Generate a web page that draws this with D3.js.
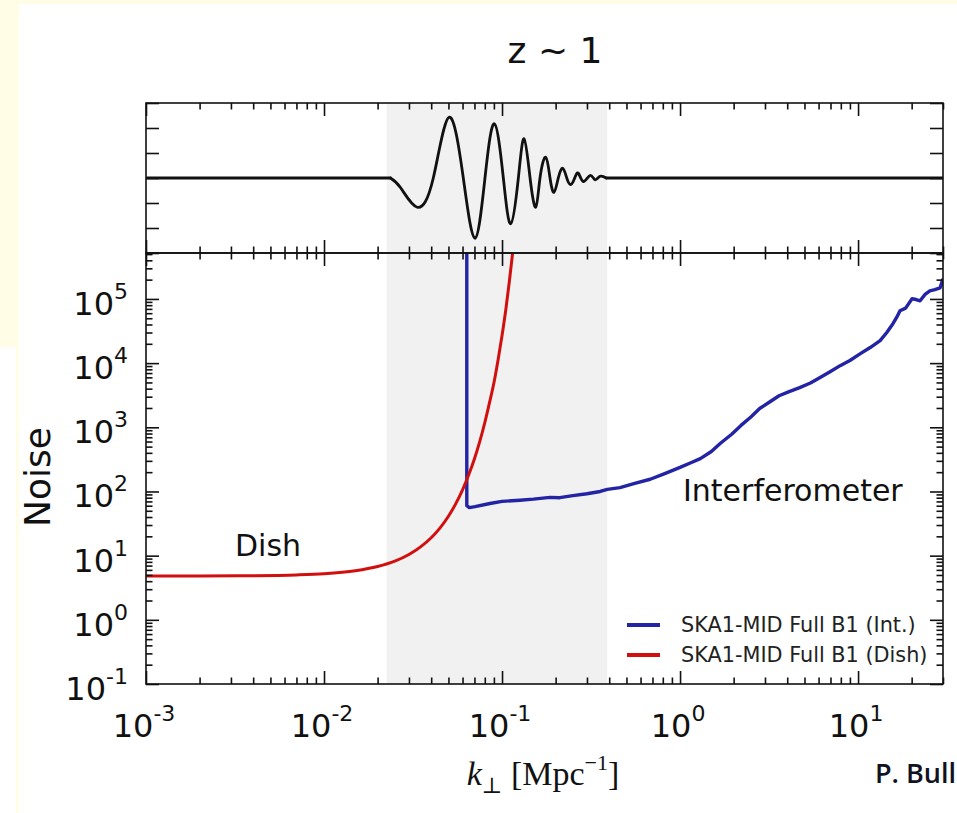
<!DOCTYPE html>
<html>
<head>
<meta charset="utf-8">
<script src="https://cdn.jsdelivr.net/npm/d3@7"></script>
<style>
  body { margin: 0; background: #fff; }
  svg { display: block; }
</style>
</head>
<body>
<svg id="chart"></svg>
<script>
// ---- data ----
const xDecades = [-3, -2, -1, 0, 1];
const yDecades = [-1, 0, 1, 2, 3, 4, 5];
const topTicks = [-3, -2, -1, 0, 1, 2, 3];
const shadeRange = [0.0225, 0.39];

// BAO wiggle (top panel), flat at zero outside the shaded band
const wiggleK = [0.001, 0.0236, 0.0270, 0.0334, 0.0411, 0.0504, 0.0606, 0.0705, 0.0802, 0.0905,
  0.1017, 0.1119, 0.1235, 0.1330, 0.1437, 0.1547, 0.1634, 0.1760, 0.1860, 0.1960, 0.2070, 0.2193, 0.2310, 0.2433,
  0.2560, 0.2685, 0.2863, 0.3122, 0.3329, 0.3553, 0.385, 30];
const wiggleV = [0, 0, -0.4, -1.17, 0, 2.43, 0, -2.41, 0, 2.17,
  0, -1.83, 0, 1.57, 0, -1.17, 0, 0.83, 0, -0.57, 0, 0.39, 0, -0.26,
  0, 0.19, -0.14, 0.10, -0.07, 0.07, 0, 0];

// SKA1-MID Full B1 (Int.)
const intK = [0.0634, 0.0634, 0.0655, 0.0705, 0.0855, 0.1, 0.126, 0.15, 0.186, 0.211, 0.25, 0.3, 0.356,
  0.39, 0.46, 0.55, 0.68, 0.82, 1.0, 1.15, 1.3, 1.5, 1.68, 1.95, 2.2, 2.5, 2.8, 3.2, 3.6, 4.1,
  4.7, 5.4, 6.12, 7.0, 7.93, 9.0, 10.3, 11.7, 13.3, 14.5, 15.7, 16.5, 17.2, 18.5, 20.1, 21.2,
  22.3, 23.8, 25.3, 27, 28.9, 30];
const intN = [6e5, 60, 56, 58, 65, 70, 73, 76, 81, 80, 86, 92, 100,
  108, 115, 132, 155, 190, 237, 280, 325, 420, 560, 780, 1070, 1450, 1960, 2500, 3100, 3600,
  4160, 4900, 5960, 7400, 9140, 11000, 14050, 17500, 22400, 30000, 41100, 52000, 65600, 72000, 100700, 98000,
  93700, 118000, 134000, 140000, 149000, 206000];

// SKA1-MID Full B1 (Dish)
const dishK = [0.001, 0.002, 0.004, 0.007, 0.01, 0.015, 0.02, 0.025, 0.03, 0.035, 0.04, 0.045, 0.05,
  0.055, 0.06, 0.065, 0.07, 0.075, 0.08, 0.085, 0.09, 0.095, 0.1, 0.105, 0.11, 0.115];
const dishN = [4.8, 4.82, 4.87, 5.01, 5.23, 5.82, 6.77, 8.2, 10.4, 13.8, 19.0, 27.4, 41.2,
  64.6, 106, 182, 324, 605, 1177, 2403, 4900, 11220, 27000, 68000, 190000, 560000];

const seriesNames = ["SKA1-MID Full B1 (Int.)", "SKA1-MID Full B1 (Dish)"];
const seriesColors = ["#2323a5", "#d20f0f"];

class NoiseChart {
  constructor(_config) {
    this.config = {
      parentElement: _config.parentElement,
      containerWidth: _config.containerWidth || 957,
      containerHeight: _config.containerHeight || 813,
      left: 146, right: 943,
      topY0: 103, topY1: 253, botY1: 684
    };
    this.initVis();
  }

  initVis() {
    let vis = this;
    const c = vis.config;

    vis.svg = d3.select(c.parentElement)
      .attr("width", c.containerWidth)
      .attr("height", c.containerHeight);

    // pale yellow slide edges
    const edge = "#fffde6";
    vis.svg.append("rect").attr("x", 0).attr("y", 0).attr("width", c.containerWidth).attr("height", 4).attr("fill", edge);
    vis.svg.append("rect").attr("x", 0).attr("y", 0).attr("width", 19).attr("height", 347).attr("fill", edge);
    vis.svg.append("rect").attr("x", 16).attr("y", 347).attr("width", 3).attr("height", 466).attr("fill", edge);

    vis.xScale = d3.scaleLog().domain([1e-3, 30]).range([c.left, c.right]);
    vis.yScale = d3.scaleLog().domain([0.1, 5.2e5]).range([c.botY1, c.topY1]);
    vis.yTopScale = d3.scaleLinear().domain([-3, 3]).range([c.topY1, c.topY0]);

    const defs = vis.svg.append("defs");
    defs.append("clipPath").attr("id", "clip-bot")
      .append("rect")
      .attr("x", c.left).attr("y", c.topY1)
      .attr("width", c.right - c.left).attr("height", c.botY1 - c.topY1);
    defs.append("clipPath").attr("id", "clip-top")
      .append("rect")
      .attr("x", c.left).attr("y", c.topY0)
      .attr("width", c.right - c.left).attr("height", c.topY1 - c.topY0);

    vis.renderVis();
  }

  renderVis() {
    let vis = this;
    const c = vis.config;
    const x = vis.xScale, y = vis.yScale, yt = vis.yTopScale;

    // shaded k-range over both panels
    vis.svg.append("rect")
      .attr("x", x(shadeRange[0]))
      .attr("y", c.topY0)
      .attr("width", x(shadeRange[1]) - x(shadeRange[0]))
      .attr("height", c.botY1 - c.topY0)
      .attr("fill", "#f1f1f1");

    // top panel wiggle: straight flat ends, smooth spline in between
    const pts = wiggleK.map((k, i) => [x(k), yt(wiggleV[i])]);
    const n = pts.length;
    const topG = vis.svg.append("g").attr("clip-path", "url(#clip-top)")
      .attr("fill", "none")
      .attr("stroke", "#111")
      .attr("stroke-width", 2.8)
      .attr("stroke-linecap", "round");
    topG.append("path").attr("d", d3.line()(pts.slice(0, 2)));
    topG.append("path").attr("d", d3.line()(pts.slice(n - 2)));
    topG.append("path").attr("d", d3.line().curve(d3.curveNatural)(pts.slice(1, n - 1)));

    // bottom panel curves
    const bot = vis.svg.append("g").attr("clip-path", "url(#clip-bot)");
    bot.append("path")
      .attr("d", d3.line()(intK.map((k, i) => [x(k), y(intN[i])])))
      .attr("fill", "none")
      .attr("stroke", seriesColors[0])
      .attr("stroke-width", 3.4)
      .attr("stroke-linejoin", "round");
    bot.append("path")
      .attr("d", d3.line().curve(d3.curveMonotoneX)(dishK.map((k, i) => [x(k), y(dishN[i])])))
      .attr("fill", "none")
      .attr("stroke", seriesColors[1])
      .attr("stroke-width", 3);

    // tick values
    const xMajor = xDecades.map(d => Math.pow(10, d));
    const xMinor = [];
    xDecades.forEach(d => {
      for (let m = 2; m <= 9; m++) {
        const v = m * Math.pow(10, d);
        if (v <= 30) xMinor.push(v);
      }
    });
    const yMajor = yDecades.map(d => Math.pow(10, d));
    const yMinor = [];
    yDecades.forEach(d => {
      for (let m = 2; m <= 9; m++) {
        const v = m * Math.pow(10, d);
        if (v <= 5.2e5) yMinor.push(v);
      }
    });

    const tickGroup = (axisFn, scale, values, size, tx, ty) => {
      vis.svg.append("g")
        .attr("transform", `translate(${tx},${ty})`)
        .call(axisFn(scale).tickValues(values).tickSize(size).tickSizeOuter(0).tickFormat(""))
        .call(g => g.select(".domain").remove())
        .call(g => g.selectAll("line").attr("stroke", "#111").attr("stroke-width", 1.6));
    };

    // x ticks: bottom of plot, shared border (both ways), top of top panel
    [[d3.axisBottom, c.botY1], [d3.axisTop, c.topY1], [d3.axisBottom, c.topY1], [d3.axisTop, c.topY0]].forEach(([fn, yy]) => {
      tickGroup(fn, x, xMajor, -13, 0, yy);
      tickGroup(fn, x, xMinor, -6.5, 0, yy);
    });
    // y ticks both panels
    [[d3.axisLeft, c.left], [d3.axisRight, c.right]].forEach(([fn, xx]) => {
      tickGroup(fn, y, yMajor, -13, xx, 0);
      tickGroup(fn, y, yMinor, -6.5, xx, 0);
      tickGroup(fn, yt, topTicks, -13, xx, 0);
    });

    // frames
    [[c.topY0, c.topY1], [c.topY1, c.botY1]].forEach(([a, b]) => {
      vis.svg.append("rect")
        .attr("x", c.left).attr("y", a)
        .attr("width", c.right - c.left).attr("height", b - a)
        .attr("fill", "none")
        .attr("stroke", "#111")
        .attr("stroke-width", 1.6);
    });

    const font = "'DejaVu Sans', sans-serif";

    // x tick labels
    xDecades.forEach(d => {
      const t = vis.svg.append("text")
        .attr("x", x(Math.pow(10, d)) - 2)
        .attr("y", 737)
        .attr("text-anchor", "middle")
        .style("font-family", font)
        .style("font-size", "32px")
        .attr("fill", "#111");
      t.append("tspan").text("10");
      t.append("tspan").attr("dy", -16).style("font-size", "22px").text(d);
    });

    // y tick labels
    yDecades.forEach(d => {
      const t = vis.svg.append("text")
        .attr("x", 128)
        .attr("y", y(Math.pow(10, d)) + 16)
        .attr("text-anchor", "end")
        .style("font-family", font)
        .style("font-size", "32px")
        .attr("fill", "#111");
      t.append("tspan").text("10");
      t.append("tspan").attr("dy", -16).style("font-size", "22px").text(d);
    });

    // title
    vis.svg.append("text")
      .attr("x", 555).attr("y", 63)
      .attr("text-anchor", "middle")
      .style("font-family", font)
      .style("font-size", "36px")
      .attr("fill", "#111")
      .text("z ~ 1");

    // y axis title
    vis.svg.append("text")
      .attr("transform", "translate(50,477) rotate(-90)")
      .attr("text-anchor", "middle")
      .style("font-family", font)
      .style("font-size", "36px")
      .attr("fill", "#111")
      .text("Noise");

    // x axis title (LaTeX look)
    const xl = vis.svg.append("text")
      .attr("x", 543).attr("y", 785)
      .attr("text-anchor", "middle")
      .style("font-family", "'Liberation Serif', 'DejaVu Serif', serif")
      .style("font-size", "34px")
      .attr("fill", "#111");
    xl.append("tspan").style("font-style", "italic").text("k");
    xl.append("tspan").attr("dy", 8).style("font-size", "22px").text("\u22A5");
    xl.append("tspan").attr("dy", -8).text(" [Mpc");
    xl.append("tspan").attr("dy", -15).style("font-size", "22px").text("\u22121");
    xl.append("tspan").attr("dy", 15).text("]");

    // curve annotations
    vis.svg.append("text")
      .attr("x", 235).attr("y", 556)
      .style("font-family", font).style("font-size", "30px").attr("fill", "#111")
      .text("Dish");
    vis.svg.append("text")
      .attr("x", 683).attr("y", 501)
      .style("font-family", font).style("font-size", "30px").attr("fill", "#111")
      .text("Interferometer");

    // legend
    seriesNames.forEach((name, i) => {
      const ly = 625 + i * 30;
      vis.svg.append("line")
        .attr("x1", 627).attr("x2", 660).attr("y1", ly).attr("y2", ly)
        .attr("stroke", seriesColors[i]).attr("stroke-width", 4);
      vis.svg.append("text")
        .attr("x", 681).attr("y", ly + 7)
        .style("font-family", font).style("font-size", "20.8px").attr("fill", "#222")
        .text(name);
    });

    // credit
    vis.svg.append("text")
      .attr("x", 875).attr("y", 783)
      .style("font-family", "'Open Sans', sans-serif")
      .style("font-size", "27px")
      .style("font-weight", 600)
      .attr("fill", "#10121f")
      .text("P. Bull");
  }
}

new NoiseChart({ parentElement: "#chart" });
</script>
</body>
</html>
